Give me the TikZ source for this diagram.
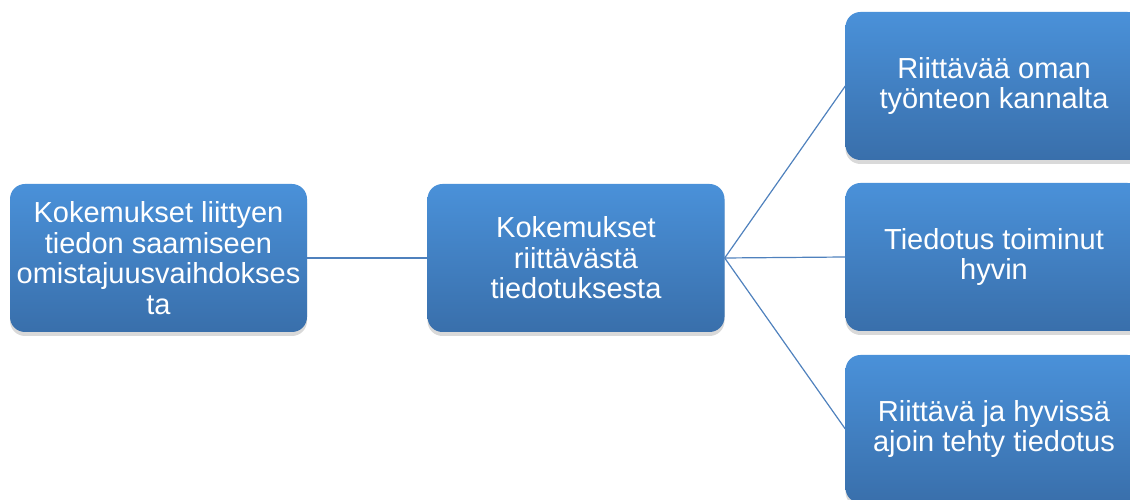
\documentclass[tikz,border=0pt]{standalone}
\usepackage{fontspec}
\setmainfont{Liberation Sans}
\definecolor{topblue}{RGB}{74, 145, 217}
\definecolor{lowblue}{RGB}{57, 111, 171}
\definecolor{linkblue}{RGB}{79, 129, 189}
\usetikzlibrary{shadows}
\tikzstyle{topic} = [rounded corners=15pt, top color=topblue, bottom color=lowblue,
                     minimum width=297pt, minimum height=148pt, text=white, align=center,
                     font=\fontsize{29}{30.5}\selectfont,
                     drop shadow={shadow xshift=0pt, shadow yshift=-4pt, opacity=0.3}]
\tikzstyle{link} = [draw=linkblue, line width=1.2pt]

\begin{document}
\begin{tikzpicture}[x=1pt, y=1pt]
                    \useasboundingbox (0, 0) rectangle (1130, 500);
                    \clip (0, 0) rectangle (1130, 500);
                    \node[topic] (exp) at (158.5, 242) {Kokemukset liittyen\\tiedon saamiseen\\omistajuusvaihdokses\\ta};
                    \node[topic] (info) at (576, 242) {Kokemukset\\riittävästä\\tiedotuksesta};
                    \node[topic] (own) at (994, 414) {Riittävää oman\\työnteon kannalta};
                    \node[topic] (good) at (994, 243) {Tiedotus toiminut\\hyvin};
                    \node[topic] (time) at (994, 71) {Riittävä ja hyvissä\\ajoin tehty tiedotus};
                    \draw[link] (exp) -- (info);
                    \draw[link] (info.east) -- (own.west);
                    \draw[link] (info.east) -- (good.west);
                    \draw[link] (info.east) -- (time.west);
                \end{tikzpicture}
\end{document}
